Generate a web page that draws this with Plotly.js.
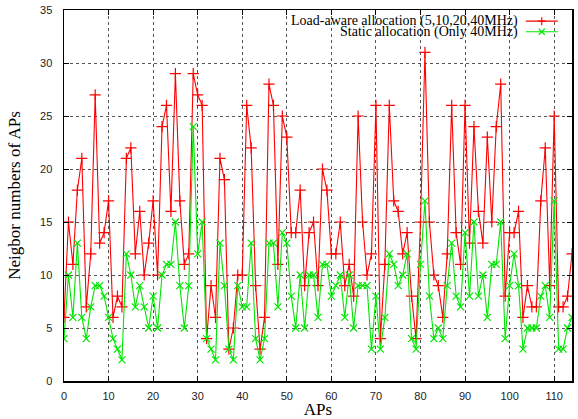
<!DOCTYPE html>
<html><head><meta charset="utf-8">
<script src="https://cdn.plot.ly/plotly-3.0.1.min.js"></script>
<style>html,body{margin:0;padding:0;background:#fff}#chart{width:578px;height:419px}</style>
</head><body><div id="chart"></div>
<script>
const aps = [0,1,2,3,4,5,6,7,8,9,10,11,12,13,14,15,16,17,18,19,20,21,22,23,24,25,26,27,28,29,30,31,32,33,34,35,36,37,38,39,40,41,42,43,44,45,46,47,48,49,50,51,52,53,54,55,56,57,58,59,60,61,62,63,64,65,66,67,68,69,70,71,72,73,74,75,76,77,78,79,80,81,82,83,84,85,86,87,88,89,90,91,92,93,94,95,96,97,98,99,100,101,102,103,104,105,106,107,108,109,110,111,112,113,114];
const loadAware = [6,15,11,18,21,7,12,27,13,14, 17,6,8,7,21,22,12,16,10,13, 17,10,24,26,16,29,17,11,12,29, 27,26,4,9,6,21,19,3,5,10, 10,26,22,9,3,6,28,26,11,25, 23,14,14,18,9,14,15,9,20,18, 12,12,15,9,11,8,25,15,10,12, 26,4,11,26,17,16,12,14,8,4, 15,31,15,10,9,6,12,26,14,11, 26,13,24,16,13,23,15,24,28,8, 14,14,16,6,9,7,7,17,22,9, 25,7,7,8,12];
const staticAlloc = [4,10,6,13,6,4,7,9,9,8, 6,4,3,2,12,10,7,9,7,5, 8,5,10,11,11,15,9,5,9,24, 12,15,4,3,2,13,9,3,2,9, 7,7,13,4,2,4,13,13,7,14, 13,8,5,10,5,10,10,6,11,11, 8,9,10,6,10,5,9,9,9,3, 8,3,6,12,11,9,10,12,4,3, 11,17,8,4,5,4,9,13,8,7, 14,8,15,8,10,6,11,11,15,4, 9,12,9,3,5,5,5,8,9,6, 17,3,3,5,6];
const seriesNames = ['Load-aware allocation (5,10,20,40MHz)', 'Static allocation (Only 40MHz)'];
const xTitle = 'APs';
const yTitle = 'Neigbor numbers of APs';

const RED = '#ff0000', GREEN = '#00e600';
const serif = 'Liberation Serif, Times New Roman, serif';
const sans = 'Liberation Sans, Arial, sans-serif';

const traces = [
  {x: aps, y: loadAware, name: seriesNames[0], type: 'scatter', mode: 'lines+markers',
   line: {color: RED, width: 1.1}, marker: {symbol: 'cross-thin-open', size: 8, line: {color: RED, width: 1.2}}, showlegend: false},
  {x: aps, y: staticAlloc, name: seriesNames[1], type: 'scatter', mode: 'lines+markers',
   line: {color: GREEN, width: 1.1}, marker: {symbol: 'x-thin-open', size: 7, line: {color: GREEN, width: 1.2}}, showlegend: false}
];

function axis(range, dtick, title) {
  return {
    range: range, dtick: dtick, tick0: 0, autorange: false,
    ticks: 'inside', ticklen: 5, tickwidth: 1, tickcolor: '#000',
    showline: true, linecolor: '#000', linewidth: 1.5, mirror: 'ticks',
    showgrid: true, gridcolor: '#555', griddash: 'dot', gridwidth: 1,
    zeroline: false, automargin: false,
    tickfont: {family: sans, size: 11, color: '#222'},
    title: {text: title, font: {family: serif, size: 17, color: '#000'}}
  };
}

const xa = axis([0, 114], 10, xTitle);
const ya = axis([0, 35], 5, yTitle);
xa.ticklabelstandoff = 4;
ya.ticklabelstandoff = 8;

// legend (gnuplot style: text on the left, key sample on the right)
const legY = [0.970, 0.9415];
const legColors = [RED, GREEN];
const legPaths = ['M-4,0H4M0,-4V4', 'M-3,-3L3,3M-3,3L3,-3'];
const annotations = seriesNames.map((t, i) => ({
  xref: 'paper', yref: 'paper', x: 0.897, y: legY[i], xanchor: 'right', yanchor: 'middle',
  text: t, showarrow: false, font: {family: serif, size: 14, color: '#000'}
}));
const shapes = [];
seriesNames.forEach((t, i) => {
  shapes.push({type: 'line', xref: 'paper', yref: 'paper', x0: 0.909, x1: 0.972, y0: legY[i], y1: legY[i],
    line: {color: legColors[i], width: 1.1}});
  shapes.push({type: 'path', xref: 'paper', yref: 'paper', xsizemode: 'pixel', ysizemode: 'pixel',
    xanchor: 0.9405, yanchor: legY[i], path: legPaths[i], line: {color: legColors[i], width: 1.2}});
});

const layout = {
  width: 578, height: 419,
  margin: {l: 64, r: 6, t: 10, b: 38, pad: 0},
  paper_bgcolor: '#fff', plot_bgcolor: '#fff',
  xaxis: xa, yaxis: ya,
  annotations: annotations, shapes: shapes,
  showlegend: false
};

Plotly.newPlot('chart', traces, layout, {displayModeBar: false, staticPlot: true});
</script>
</body></html>
